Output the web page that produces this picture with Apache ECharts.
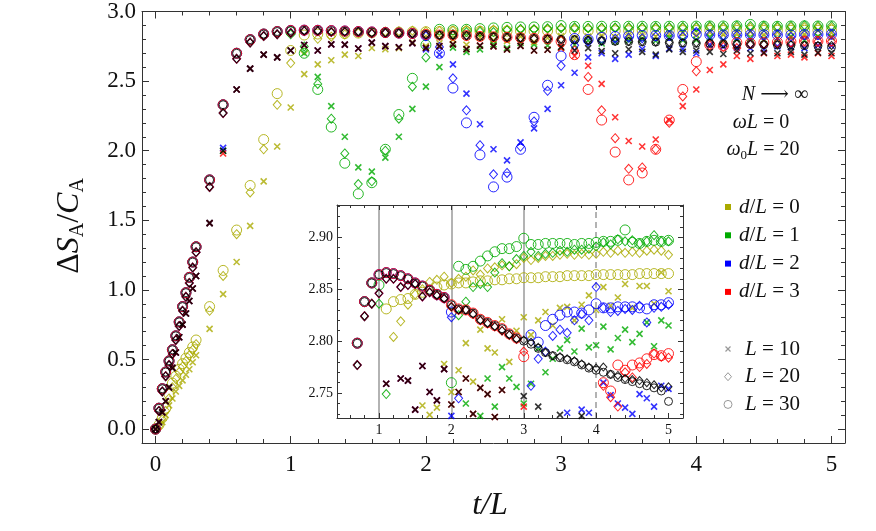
<!DOCTYPE html>
<html><head><meta charset="utf-8">
<script src="https://cdn.jsdelivr.net/npm/echarts@6/dist/echarts.min.js"></script>
<style>html,body{margin:0;padding:0;background:#fff}#c{width:876px;height:531px}</style>
</head><body><div id="c"></div>
<script>
// time grid t/L
const T = [0,0.025,0.05,0.075,0.1,0.125,0.15,0.175,0.2,0.225,0.25,0.275,0.3,
0.4,0.5,0.6,0.7,0.8,0.9,1.0,
1.1,1.2,1.3,1.4,1.5,1.6,1.7,1.8,1.9,2.0,
2.1,2.2,2.3,2.4,2.5,2.6,2.7,2.8,2.9,3.0,
3.1,3.2,3.3,3.4,3.5,3.6,3.7,3.8,3.9,4.0,
4.1,4.2,4.3,4.4,4.5,4.6,4.7,4.8,4.9,5.0];

// d/L = 0 (C: L=30 circles, D: L=20 diamonds, X: L=10 crosses)
const D0_C = [0,0.03,0.08,0.15,0.25,0.33,0.38,0.43,0.47,0.51,0.55,0.59,0.64,
0.88,1.14,1.43,1.75,2.08,2.41,2.72,
2.831,2.838,2.840,2.841,2.845,2.847,2.849,2.852,2.854,2.855,
2.856,2.856,2.857,2.858,2.858,2.859,2.859,2.860,2.860,2.861,
2.861,2.861,2.862,2.862,2.862,2.863,2.863,2.863,2.863,2.864,
2.864,2.864,2.864,2.864,2.864,2.865,2.865,2.865,2.865,2.865];
const D0_D = [0,0.02,0.07,0.13,0.22,0.30,0.36,0.41,0.45,0.49,0.53,0.57,0.61,
0.85,1.10,1.40,1.70,2.01,2.33,2.63,
2.72,2.804,2.819,2.835,2.845,2.850,2.857,2.859,2.862,2.856,
2.860,2.862,2.868,2.864,2.870,2.871,2.873,2.872,2.874,2.880,
2.878,2.880,2.882,2.882,2.883,2.884,2.883,2.884,2.883,2.884,
2.886,2.885,2.887,2.885,2.886,2.885,2.887,2.888,2.887,2.883];
const D0_X = [0,0.02,0.05,0.10,0.17,0.22,0.27,0.31,0.35,0.39,0.43,0.48,0.53,
0.72,0.97,1.20,1.46,1.78,2.03,2.31,
2.55,2.62,2.65,2.69,2.68,2.738,2.729,2.736,2.778,2.751,
2.772,2.798,2.761,2.811,2.793,2.789,2.821,2.780,2.810,2.823,
2.806,2.820,2.828,2.815,2.832,2.833,2.820,2.835,2.844,2.830,
2.852,2.834,2.842,2.855,2.832,2.853,2.853,2.836,2.866,2.848];

// d/L = 1
const D1_C = [0,0.15,0.29,0.41,0.49,0.57,0.67,0.77,0.88,0.98,1.09,1.20,1.31,
1.79,2.33,2.70,2.798,2.838,2.856,2.854,
2.70,2.44,2.17,1.91,1.69,1.77,2.01,2.26,2.52,2.76,
2.872,2.869,2.872,2.877,2.882,2.886,2.889,2.889,2.891,2.899,
2.893,2.893,2.894,2.894,2.894,2.894,2.893,2.894,2.894,2.895,
2.896,2.896,2.897,2.907,2.895,2.894,2.896,2.897,2.896,2.897];
const D1_D = [0,0.13,0.27,0.38,0.46,0.54,0.64,0.74,0.85,0.95,1.05,1.16,1.27,
1.74,2.27,2.66,2.777,2.824,2.836,2.836,
2.749,2.48,2.23,1.98,1.76,1.78,2.00,2.23,2.46,2.67,
2.825,2.838,2.852,2.855,2.852,2.866,2.875,2.872,2.879,2.882,
2.886,2.882,2.884,2.885,2.887,2.886,2.888,2.888,2.889,2.891,
2.895,2.893,2.898,2.896,2.897,2.894,2.896,2.902,2.896,2.896];
const D1_X = [0,0.05,0.12,0.20,0.30,0.44,0.55,0.66,0.75,0.83,0.92,1.01,1.10,
1.48,2.00,2.44,2.59,2.69,2.67,2.72,
2.70,2.53,2.32,2.10,1.88,1.85,1.95,2.10,2.30,2.46,
2.60,2.74,2.71,2.728,2.764,2.737,2.775,2.764,2.756,2.740,
2.759,2.793,2.770,2.783,2.793,2.801,2.790,2.812,2.794,2.796,
2.814,2.792,2.803,2.811,2.799,2.807,2.818,2.795,2.820,2.815];

// d/L = 2
const D2_C = [0,0.15,0.29,0.41,0.49,0.57,0.67,0.77,0.88,0.98,1.09,1.20,1.31,
1.79,2.33,2.70,2.798,2.838,2.856,2.864,
2.866,2.865,2.863,2.860,2.856,2.853,2.849,2.845,2.842,2.828,
2.70,2.45,2.20,1.97,1.74,1.81,2.01,2.24,2.47,2.68,
2.806,2.799,2.815,2.821,2.825,2.828,2.828,2.827,2.830,2.836,
2.832,2.832,2.833,2.833,2.833,2.832,2.831,2.835,2.835,2.837];
const D2_D = [0,0.13,0.27,0.38,0.46,0.54,0.64,0.74,0.85,0.95,1.05,1.16,1.27,
1.74,2.27,2.66,2.777,2.824,2.836,2.846,
2.860,2.860,2.852,2.854,2.855,2.843,2.847,2.844,2.841,2.823,
2.745,2.52,2.29,2.04,1.83,1.84,2.03,2.21,2.43,2.61,
2.757,2.783,2.790,2.805,2.811,2.808,2.820,2.826,2.820,2.852,
2.832,2.828,2.829,2.831,2.830,2.834,2.818,2.832,2.833,2.835];
const D2_X = [0,0.05,0.12,0.20,0.30,0.44,0.55,0.66,0.75,0.83,0.92,1.01,1.10,
1.48,2.02,2.44,2.59,2.69,2.67,2.72,
2.759,2.72,2.764,2.762,2.734,2.776,2.751,2.743,2.773,2.728,
2.69,2.62,2.41,2.19,2.01,1.93,2.06,2.16,2.30,2.47,
2.56,2.67,2.70,2.66,2.69,2.731,2.68,2.734,2.731,2.70,
2.76,2.748,2.74,2.736,2.73,2.749,2.745,2.737,2.757,2.754];

// d/L = 3
const D3_C = [0,0.15,0.29,0.41,0.49,0.57,0.67,0.77,0.88,0.98,1.09,1.20,1.31,
1.79,2.33,2.70,2.798,2.838,2.856,2.864,
2.866,2.865,2.863,2.860,2.856,2.853,2.849,2.845,2.842,2.835,
2.831,2.830,2.827,2.821,2.818,2.815,2.812,2.807,2.803,2.785,
2.69,2.44,2.22,1.99,1.79,1.84,2.01,2.22,2.44,2.64,
2.760,2.752,2.777,2.772,2.777,2.779,2.783,2.787,2.786,2.788];
const D3_D = [0,0.13,0.27,0.38,0.46,0.54,0.64,0.74,0.85,0.95,1.05,1.16,1.27,
1.74,2.27,2.66,2.777,2.824,2.836,2.846,
2.860,2.860,2.852,2.854,2.855,2.843,2.847,2.844,2.841,2.833,
2.830,2.830,2.826,2.820,2.817,2.814,2.810,2.806,2.802,2.790,
2.72,2.53,2.29,2.09,1.87,1.88,2.01,2.20,2.39,2.57,
2.757,2.746,2.737,2.770,2.765,2.775,2.778,2.788,2.785,2.784];
const D3_X = [0,0.05,0.12,0.20,0.30,0.44,0.55,0.66,0.75,0.83,0.92,1.01,1.10,
1.48,1.98,2.44,2.59,2.69,2.67,2.72,
2.759,2.72,2.764,2.762,2.734,2.776,2.751,2.743,2.773,2.739,
2.751,2.764,2.730,2.755,2.749,2.727,2.753,2.72,2.725,2.737,
2.68,2.61,2.48,2.24,2.07,2.03,2.08,2.22,2.32,2.44,
2.58,2.62,2.68,2.66,2.70,2.68,2.69,2.67,2.70,2.68];

// black reference series (no dip)
const DB_C = [0,0.15,0.29,0.41,0.49,0.57,0.67,0.77,0.88,0.98,1.09,1.20,1.31,
1.79,2.33,2.70,2.798,2.838,2.856,2.864,
2.866,2.865,2.863,2.860,2.856,2.853,2.849,2.845,2.842,2.835,
2.831,2.830,2.827,2.821,2.818,2.815,2.812,2.807,2.803,2.800,
2.797,2.793,2.789,2.786,2.784,2.782,2.780,2.777,2.774,2.772,
2.770,2.768,2.765,2.763,2.761,2.759,2.757,2.755,2.752,2.742];
const DB_D = [0,0.13,0.27,0.38,0.46,0.54,0.64,0.74,0.85,0.95,1.05,1.16,1.27,
1.74,2.27,2.66,2.777,2.824,2.836,2.846,
2.860,2.860,2.852,2.854,2.855,2.843,2.847,2.844,2.841,2.833,
2.830,2.830,2.826,2.820,2.817,2.814,2.810,2.806,2.802,2.801,
2.799,2.794,2.789,2.786,2.785,2.783,2.781,2.778,2.775,2.774,
2.775,2.768,2.767,2.764,2.763,2.762,2.760,2.758,2.755,2.756];
const DB_X = [0,0.05,0.12,0.20,0.30,0.44,0.55,0.66,0.75,0.83,0.92,1.01,1.10,
1.48,2.00,2.44,2.59,2.69,2.67,2.72,
2.759,2.72,2.764,2.762,2.734,2.776,2.751,2.743,2.773,2.739,
2.751,2.764,2.730,2.755,2.749,2.727,2.753,2.72,2.725,2.747,
2.72,2.737,2.715,2.70,2.729,2.71,2.69,2.728,2.71,2.72,
2.71,2.695,2.72,2.70,2.705,2.70,2.71,2.69,2.705,2.70];

const INSET_LINES = [1, 2, 3, 4];
const LEGEND_D = ['0', '1', '2', '3'];
const LEGEND_L = ['10', '20', '30'];

const F = 'Liberation Serif';
const COL = ['#aaaa00', '#00aa00', '#0000ff', '#ff0000', '#000000'];
const GROUPS = [[D0_C, D0_D, D0_X], [D1_C, D1_D, D1_X], [D2_C, D2_D, D2_X], [D3_C, D3_D, D3_X], [DB_C, DB_D, DB_X]];
const CROSS = 'path://M0,0L10,10M10,0L0,10';

function pts(arr) { return T.map((t, i) => [t, arr[i]]).filter(p => p[1] != null); }

function mk(arr, color, kind, black, inset) {
  const s = {
    type: 'scatter', data: pts(arr), xAxisIndex: inset ? 2 : 0, yAxisIndex: inset ? 2 : 0,
    z: inset ? 12 : 2, clip: true, silent: true, animation: false
  };
  if (kind === 0) {
    s.symbol = 'circle'; s.symbolSize = black ? 8 : 10;
    s.itemStyle = { color: 'rgba(0,0,0,0)', borderColor: color, borderWidth: 1, opacity: 0.85 };
  } else if (kind === 1) {
    s.symbol = 'diamond'; s.symbolSize = black ? [7, 8] : [8, 9];
    s.itemStyle = { color: 'rgba(0,0,0,0)', borderColor: color, borderWidth: 1, opacity: 0.85 };
  } else {
    s.symbol = CROSS; s.symbolSize = 6;
    s.itemStyle = { color: 'rgba(0,0,0,0)', borderColor: color, borderWidth: 1.6 };
  }
  return s;
}

const series = [];
[false, true].forEach(inset => {
  GROUPS.forEach((g, ci) => {
    g.forEach((arr, k) => series.push(mk(arr, COL[ci], k, ci === 4, inset)));
  });
});
// inset grid lines
series.push({
  type: 'line', data: [], xAxisIndex: 2, yAxisIndex: 2, z: 11, silent: true,
  markLine: {
    silent: true, symbol: 'none', z: 11, animation: false, label: { show: false },
    lineStyle: { color: '#9a9a9a', width: 1.5, type: 'solid' },
    data: INSET_LINES.map(v => ({ xAxis: v, lineStyle: { type: v === 4 ? [6, 4] : 'solid' } }))
  }
});

const AX = '#333';
function xax(grid, pos, min, max, showLab, fs, tick, minor, z) {
  return {
    type: 'value', gridIndex: grid, position: pos, min: min, max: max, z: z,
    axisLine: { show: true, onZero: false, lineStyle: { color: AX, width: 1 } },
    axisTick: { show: true, inside: true, length: tick, lineStyle: { color: AX } },
    minorTick: { show: true, splitNumber: 5, length: minor, lineStyle: { color: AX } },
    splitLine: { show: false }, minorSplitLine: { show: false },
    axisLabel: {
      show: showLab, fontFamily: F, fontSize: fs, color: '#111', margin: grid === 0 ? 10 : 5,
      formatter: v => (Math.abs(v - Math.round(v)) < 1e-6 && v > -1e-6) ? String(Math.round(v)) : ''
    }
  };
}
function yax(grid, pos, min, max, showLab, fs, tick, minor, z, step, dec) {
  return {
    type: 'value', gridIndex: grid, position: pos, min: min, max: max, z: z,
    axisLine: { show: true, onZero: false, lineStyle: { color: AX, width: 1 } },
    axisTick: { show: true, inside: true, length: tick, lineStyle: { color: AX } },
    minorTick: { show: true, splitNumber: 5, length: minor, lineStyle: { color: AX } },
    splitLine: { show: false }, minorSplitLine: { show: false },
    axisLabel: {
      show: showLab, fontFamily: F, fontSize: fs, color: '#111', margin: grid === 0 ? 6 : 4,
      formatter: v => (Math.abs(v / step - Math.round(v / step)) < 1e-6 && v > -1e-6) ? v.toFixed(dec) : ''
    }
  };
}

const it = { fontStyle: 'italic', fontFamily: F };
const graphic = [
  { type: 'text', x: 70, y: 226, rotation: Math.PI / 2, silent: true,
    style: { text: '{n|Δ}{i|S}{s|A}{n|/}{i|C}{s|A}', align: 'center', verticalAlign: 'middle', fill: '#111',
      rich: { n: { fontSize: 32, fontFamily: F, lineHeight: 36 }, i: { fontSize: 32, fontFamily: F, fontStyle: 'italic', lineHeight: 36 },
        s: { fontSize: 20, fontFamily: F, lineHeight: 22, verticalAlign: 'bottom' } } } },
  { type: 'text', x: 490, y: 506, silent: true,
    style: { text: 't/L', fontSize: 32, fontFamily: F, fontStyle: 'italic', align: 'center', verticalAlign: 'middle', fill: '#111' } },
  { type: 'text', x: 775, y: 95, silent: true,
    style: { text: '{i|N} {a|⟶} ∞', fontSize: 20, fontFamily: F, fill: '#111', align: 'center', verticalAlign: 'middle',
      rich: { i: Object.assign({ fontSize: 20 }, it), a: { fontSize: 20, fontFamily: 'DejaVu Serif' } } } },
  { type: 'text', x: 761, y: 123, silent: true,
    style: { text: '{i|ωL} = 0', fontSize: 20, fontFamily: F, fill: '#111', align: 'center', verticalAlign: 'middle',
      rich: { i: Object.assign({ fontSize: 20 }, it) } } },
  { type: 'text', x: 763, y: 150, silent: true,
    style: { text: '{i|ω}{s|0}{i|L} = 20', fontSize: 20, fontFamily: F, fill: '#111', align: 'center', verticalAlign: 'middle',
      rich: { i: Object.assign({ fontSize: 20, lineHeight: 24 }, it), s: { fontSize: 13, fontFamily: F, lineHeight: 14, verticalAlign: 'bottom' } } } }
];
LEGEND_D.forEach((d, i) => {
  const y = 207 + i * 28.3;
  graphic.push({ type: 'rect', silent: true, shape: { x: 725, y: y - 3, width: 6, height: 6 }, style: { fill: COL[i] } });
  graphic.push({ type: 'text', x: 739, y: y, silent: true,
    style: { text: '{i|d}/{i|L} = ' + d, fontSize: 21, fontFamily: F, fill: '#111', verticalAlign: 'middle',
      rich: { i: Object.assign({ fontSize: 21 }, it) } } });
});
LEGEND_L.forEach((l, i) => {
  const y = 349 + i * 27.7;
  const g = '#999';
  if (i === 0) {
    graphic.push({ type: 'polyline', silent: true, shape: { points: [[725.5, y - 2.5], [730.5, y + 2.5]] }, style: { stroke: g, lineWidth: 1.2 } });
    graphic.push({ type: 'polyline', silent: true, shape: { points: [[730.5, y - 2.5], [725.5, y + 2.5]] }, style: { stroke: g, lineWidth: 1.2 } });
  } else if (i === 1) {
    graphic.push({ type: 'polygon', silent: true, shape: { points: [[728, y - 4], [731.5, y], [728, y + 4], [724.5, y]] }, style: { fill: 'none', stroke: g, lineWidth: 1 } });
  } else {
    graphic.push({ type: 'circle', silent: true, shape: { cx: 728, cy: y, r: 4 }, style: { fill: 'none', stroke: g, lineWidth: 1 } });
  }
  graphic.push({ type: 'text', x: 745, y: y, silent: true,
    style: { text: '{i|L} = ' + l, fontSize: 21, fontFamily: F, fill: '#111', verticalAlign: 'middle',
      rich: { i: Object.assign({ fontSize: 21 }, it) } } });
});

const option = {
  animation: false,
  backgroundColor: '#fff',
  grid: [
    { left: 142, top: 11, width: 703, height: 432, show: false },
    { left: 337, top: 205, width: 346, height: 213, show: true, backgroundColor: '#fff', borderWidth: 0, z: 10 }
  ],
  xAxis: [
    xax(0, 'bottom', -0.1, 5.1, true, 23, 7, 4, 1),
    xax(0, 'top', -0.1, 5.1, false, 23, 7, 4, 1),
    xax(1, 'bottom', 0.42, 5.2, true, 14, 5, 3, 11),
    xax(1, 'top', 0.42, 5.2, false, 14, 5, 3, 11)
  ],
  yAxis: [
    yax(0, 'left', -0.1, 3.0, true, 23, 7, 4, 1, 0.5, 1),
    yax(0, 'right', -0.1, 3.0, false, 23, 7, 4, 1, 0.5, 1),
    yax(1, 'left', 2.726, 2.931, true, 14, 5, 3, 11, 0.05, 2),
    yax(1, 'right', 2.726, 2.931, false, 14, 5, 3, 11, 0.05, 2)
  ],
  series: series,
  graphic: graphic
};
const chart = echarts.init(document.getElementById('c'), null, { renderer: 'canvas' });
chart.setOption(option);
</script></body></html>
